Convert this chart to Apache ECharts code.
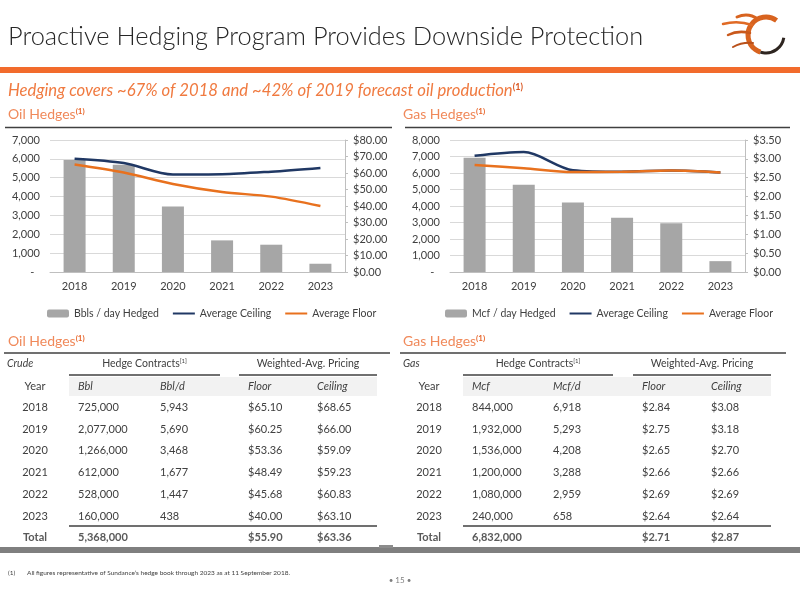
<!DOCTYPE html>
<html>
<head>
<meta charset="utf-8">
<script src="https://cdn.jsdelivr.net/npm/echarts@6/dist/echarts.min.js"></script>
<style>
  html, body { margin: 0; padding: 0; background: #fff; }
  #main { width: 800px; height: 600px; }
</style>
</head>
<body>
<div id="main"></div>
<script>
// data
const years = ['2018', '2019', '2020', '2021', '2022', '2023'];

const oilBbl = [725000, 2077000, 1266000, 612000, 528000, 160000];
const oilBblDay = [5943, 5690, 3468, 1677, 1447, 438];
const oilFloor = [65.10, 60.25, 53.36, 48.49, 45.68, 40.00];
const oilCeiling = [68.65, 66.00, 59.09, 59.23, 60.83, 63.10];
const oilTotal = [5368000, 55.90, 63.36];

const gasMcf = [844000, 1932000, 1536000, 1200000, 1080000, 240000];
const gasMcfDay = [6918, 5293, 4208, 3288, 2959, 658];
const gasFloor = [2.84, 2.75, 2.65, 2.66, 2.69, 2.64];
const gasCeiling = [3.08, 3.18, 2.70, 2.66, 2.69, 2.64];
const gasTotal = [6832000, 2.71, 2.87];

const FONT = 'Lato, "Open Sans", sans-serif';
const TXT = '#404040';
const ORANGE = '#F26B2C';
const LIGHT_ORANGE = '#F0895A';

const fmtNum = (v) => v.toLocaleString('en-US');
const fmtUsd = (v) => '$' + v.toFixed(2);

const chart = echarts.init(document.getElementById('main'));

// --- helpers for the slide furniture ---
const text = (x, y, str, extra = {}) => ({
  type: 'text', x, y, silent: true,
  style: Object.assign({
    text: str, fill: TXT, fontFamily: FONT, fontSize: 11,
    align: 'left', verticalAlign: 'middle'
  }, extra)
});
const hline = (x1, x2, y, color, w) => ({
  type: 'line', silent: true,
  shape: { x1, y1: y, x2, y2: y },
  style: { stroke: color, lineWidth: w }
});
const rect = (x, y, w, h, fill) => ({
  type: 'rect', silent: true, shape: { x, y, width: w, height: h }, style: { fill }
});
const sectionHead = (x, y, label) => text(x, y, '{a|' + label + '}{s|(1)}', {
  rich: {
    a: { fontFamily: FONT, fontSize: 14, fill: LIGHT_ORANGE },
    s: { fontFamily: FONT, fontSize: 8, fill: '#E8652A', fontWeight: 'bold', verticalAlign: 'top', padding: [0, 0, 6, 0] }
  }
});

function table(x0, cols, kind, unit, unitDay, qty, qtyDay, floor, ceil, total) {
  const els = [];
  const [cYear, cQty, cDay, cFloor, cCeil] = cols;
  const left = cQty - 9, mid1 = cDay + 60, mid2 = cFloor - 9, right = cCeil + 60;
  const tot = { fontWeight: 'bold', fill: '#595959' };
  els.push(hline(x0, x0 + 386, 353, '#404040', 1.5));
  els.push(text(x0 + 3, 364, kind, { fontStyle: 'italic', fontSize: 10.5 }));
  els.push(text((left + mid1) / 2, 364, '{a|Hedge Contracts}{s|[1]}', {
    align: 'center',
    rich: { a: { fontFamily: FONT, fontSize: 10.5, fill: TXT }, s: { fontFamily: FONT, fontSize: 6, fill: TXT, verticalAlign: 'top', padding: [0, 0, 5, 0] } }
  }));
  els.push(text((mid2 + right) / 2, 364, 'Weighted-Avg. Pricing', { align: 'center', fontSize: 10.5 }));
  els.push(hline(left, mid1, 375, '#404040', 1.5));
  els.push(hline(mid2, right, 375, '#404040', 1.5));
  els.push(rect(left, 377, right - left, 19, '#F2F2F2'));
  els.push(text(cYear, 386, 'Year', { align: 'center' }));
  els.push(text(cQty, 386, unit, { fontStyle: 'italic' }));
  els.push(text(cDay, 386, unitDay, { fontStyle: 'italic' }));
  els.push(text(cFloor, 386, 'Floor', { fontStyle: 'italic' }));
  els.push(text(cCeil, 386, 'Ceiling', { fontStyle: 'italic' }));
  years.forEach((yr, i) => {
    const y = 407.5 + i * 21.7;
    els.push(text(cYear, y, yr, { align: 'center' }));
    els.push(text(cQty, y, fmtNum(qty[i])));
    els.push(text(cDay, y, fmtNum(qtyDay[i])));
    els.push(text(cFloor, y, fmtUsd(floor[i])));
    els.push(text(cCeil, y, fmtUsd(ceil[i])));
  });
  els.push(hline(left, right, 526, '#404040', 1.5));
  els.push(text(cYear, 537, 'Total', Object.assign({ align: 'center' }, tot)));
  els.push(text(cQty, 537, fmtNum(total[0]), tot));
  els.push(text(cFloor, 537, fmtUsd(total[1]), tot));
  els.push(text(cCeil, 537, fmtUsd(total[2]), tot));
  return els;
}

// rough company mark, top right
const flame = (x1, y1, cpx1, cpy1, x2, y2, c, w) => ({
  type: 'bezierCurve', silent: true, shape: { x1, y1, cpx1, cpy1, x2, y2 },
  style: { stroke: c, lineWidth: w, fill: null, lineCap: 'round' }
});
const logo = [
  { type: 'arc', silent: true, shape: { cx: 766, cy: 35, r: 18, startAngle: -Math.PI * 0.3, endAngle: Math.PI * 0.6, clockwise: false },
    style: { stroke: '#D8631F', lineWidth: 5, fill: null } },
  { type: 'arc', silent: true, shape: { cx: 766, cy: 35, r: 18, startAngle: Math.PI * 0.05, endAngle: Math.PI * 0.6 },
    style: { stroke: '#2E2520', lineWidth: 3, fill: null } },
  flame(758, 19, 748, 12, 737, 17, '#D8631F', 3),
  flame(752, 25, 738, 20, 723, 24, '#E06A25', 2.5),
  flame(750, 33, 738, 30, 728, 35, '#C9581B', 2.5),
  flame(753, 43, 742, 42, 733, 47, '#B9501A', 2)
];

const graphic = [
  text(8, 37, 'Proactive Hedging Program Provides Downside Protection', { fontSize: 25.4, fill: '#262626', fontWeight: 300 }),
  ...logo,
  rect(0, 67, 800, 6, ORANGE),
  text(8, 91, '{a|Hedging covers ~67% of 2018 and ~42% of 2019 forecast oil production}{s|(1)}', {
    rich: {
      a: { fontFamily: FONT, fontSize: 16.7, fontStyle: 'italic', fill: '#F07A40' },
      s: { fontFamily: FONT, fontSize: 9, fontWeight: 'bold', fill: '#D9541E', verticalAlign: 'top', padding: [0, 0, 7, 0] }
    }
  }),
  sectionHead(8, 114, 'Oil Hedges'),
  sectionHead(403, 114, 'Gas Hedges'),
  hline(5, 392, 127.5, '#404040', 1.5),
  hline(405, 790, 127.5, '#404040', 1.5),
  sectionHead(8, 341, 'Oil Hedges'),
  sectionHead(403, 341, 'Gas Hedges'),
  ...table(4, [35, 78, 160, 248, 317], 'Crude', 'Bbl', 'Bbl/d', oilBbl, oilBblDay, oilFloor, oilCeiling, oilTotal),
  ...table(400, [429, 472, 553, 642, 711], 'Gas', 'Mcf', 'Mcf/d', gasMcf, gasMcfDay, gasFloor, gasCeiling, gasTotal),
  rect(0, 547, 800, 6, '#7F7F7F'),
  rect(379, 545, 14, 3, '#8C8C8C'),
  text(8, 573, '(1)', { fontSize: 6.5 }),
  text(27, 573, 'All figures representative of Sundance\u2019s hedge book through 2023 as at 11 September 2018.', { fontSize: 6.5 }),
  text(400, 580, '\u2022 15 \u2022', { align: 'center', fontSize: 8, fill: '#7F7F7F' })
];

const catAxis = (gridIndex) => ({
  type: 'category', gridIndex, data: years,
  axisLine: { lineStyle: { color: '#BFBFBF' } },
  axisTick: { show: false },
  axisLabel: { color: TXT, fontSize: 11, fontFamily: FONT, margin: 9 }
});
const leftAxis = (gridIndex, max) => ({
  type: 'value', gridIndex, min: 0, max, interval: 1000,
  axisLine: { show: false }, axisTick: { show: false },
  splitLine: { lineStyle: { color: '#D9D9D9' } },
  axisLabel: { color: TXT, fontSize: 11, fontFamily: FONT, margin: 10,
    formatter: (v) => (v === 0 ? '-  ' : fmtNum(v)) }
});
const rightAxis = (gridIndex, max, interval) => ({
  type: 'value', gridIndex, position: 'right', min: 0, max, interval,
  axisLine: { show: true, lineStyle: { color: '#BFBFBF' } },
  axisTick: { show: true, length: 3, lineStyle: { color: '#BFBFBF' } },
  splitLine: { show: false },
  axisLabel: { color: TXT, fontSize: 11, fontFamily: FONT, margin: 8, formatter: fmtUsd }
});
const lineSeries = (name, data, xAxisIndex, yAxisIndex, color) => ({
  name, type: 'line', data, xAxisIndex, yAxisIndex,
  smooth: 0.3, symbol: 'none', color,
  lineStyle: { width: 2.5, color }
});
// line entries: hide the legend dot, keep the stroke
const legend = (left, barName) => ({
  left, top: 303, itemWidth: 22, itemHeight: 8, itemGap: 13,
  data: [
    barName,
    { name: 'Average Ceiling', itemStyle: { opacity: 0 } },
    { name: 'Average Floor', itemStyle: { opacity: 0 } }
  ],
  selectedMode: false,
  textStyle: { color: TXT, fontSize: 10.5, fontFamily: FONT }
});

const option = {
  animation: false,
  textStyle: { fontFamily: FONT },
  grid: [
    { left: 50, top: 140, width: 295, height: 132 },
    { left: 450, top: 140, width: 295, height: 132 }
  ],
  xAxis: [catAxis(0), catAxis(1)],
  yAxis: [leftAxis(0, 7000), rightAxis(0, 80, 10), leftAxis(1, 8000), rightAxis(1, 3.5, 0.5)],
  legend: [legend(42, 'Bbls / day Hedged'), legend(440, 'Mcf / day Hedged')],
  series: [
    { name: 'Bbls / day Hedged', type: 'bar', data: oilBblDay, xAxisIndex: 0, yAxisIndex: 0, barWidth: 22, color: '#A6A6A6' },
    lineSeries('Average Ceiling', oilCeiling, 0, 1, '#203864'),
    lineSeries('Average Floor', oilFloor, 0, 1, '#E8711E'),
    { name: 'Mcf / day Hedged', type: 'bar', data: gasMcfDay, xAxisIndex: 1, yAxisIndex: 2, barWidth: 22, color: '#A6A6A6' },
    lineSeries('Average Ceiling', gasCeiling, 1, 3, '#203864'),
    lineSeries('Average Floor', gasFloor, 1, 3, '#E8711E')
  ],
  graphic
};

chart.setOption(option);
</script>
</body>
</html>
